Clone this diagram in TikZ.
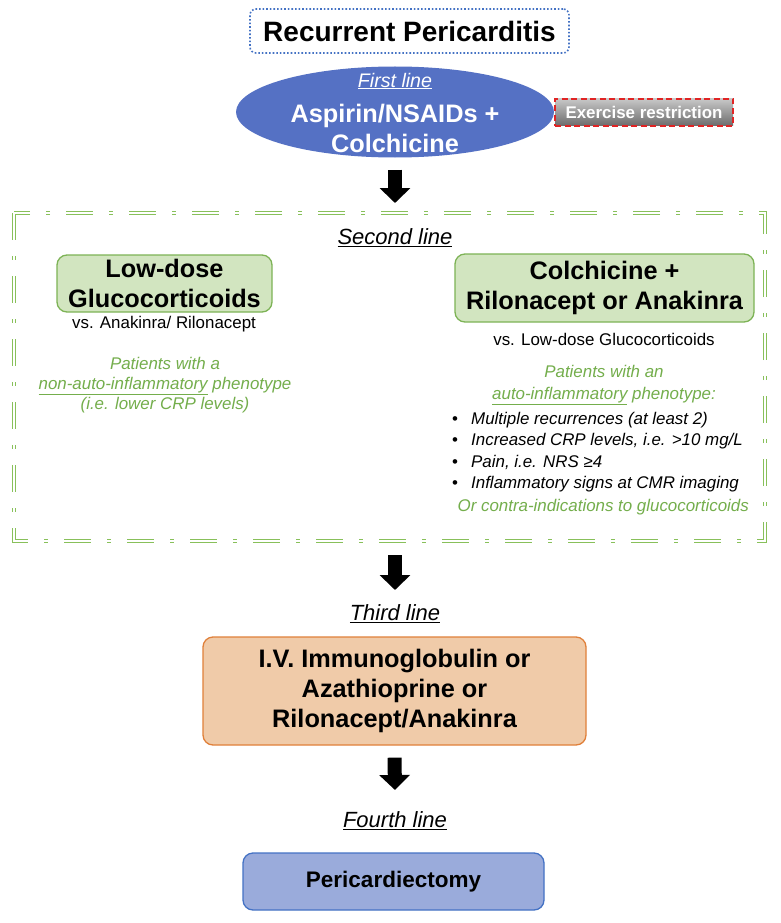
\documentclass[tikz,border=0pt]{standalone}
\usepackage{fontspec}
\setmainfont{Liberation Sans}
\usetikzlibrary{shapes.geometric,arrows.meta}

\definecolor{titleblue}{HTML}{4472C4}
\definecolor{ellblue}{HTML}{5571C4}
\definecolor{periblue}{HTML}{9AABDB}
\definecolor{boxgreen}{HTML}{D2E5C0}
\definecolor{edgegreen}{HTML}{7DB356}
\definecolor{framegreen}{HTML}{88C05A}
\definecolor{txtgreen}{HTML}{74AE4C}
\definecolor{boxorange}{HTML}{F0CBA9}
\definecolor{edgeorange}{HTML}{E0803A}
\definecolor{exred}{HTML}{E02424}

\tikzset{
  bigtext/.style={font=\fontsize{25.3}{30}\selectfont\bfseries, align=center},
  linelabel/.style={font=\fontsize{22}{26}\selectfont\itshape},
  vstext/.style={font=\fontsize{16.9}{21}\selectfont},
  greentext/.style={font=\fontsize{16.9}{20}\selectfont\itshape, text=txtgreen, align=center},
  roundbox/.style={rounded corners=10pt, line width=1.3pt, inner sep=0pt},
  greenbox/.style={roundbox, draw=edgegreen, fill=boxgreen, bigtext},
  fatarrow/.style={line width=14pt, -{Triangle[width=30pt,length=15pt]}},
  framestyle/.style={draw=framegreen, line width=1.7pt, double=white, double distance=1.5pt,
    dash pattern=on 27pt off 16pt on 4pt off 16pt}
}

\begin{document}
\begin{tikzpicture}[x=1pt,y=-1pt]
%%%%% START %%%%%
\fill[white] (0,0) rectangle (781,923);
\useasboundingbox (0,0) rectangle (781,923);

% first line
\node[draw=titleblue, dotted, line width=1.6pt, rounded corners=6pt, minimum width=319pt,
  minimum height=44pt, font=\fontsize{28}{32}\selectfont\bfseries] (title) at (409.5,31) {Recurrent Pericarditis};
\node[ellipse, fill=ellblue, minimum width=318pt, minimum height=91pt, inner sep=0pt] (first) at (395,112) {};
\node[font=\fontsize{19.6}{23}\selectfont\itshape, text=white] (firstlbl) at (395,81) {\underline{First line}};
\node[bigtext, text=white] (firsttxt) at (395,128) {Aspirin/NSAIDs +\\Colchicine};
\node[draw=exred, dash pattern=on 6pt off 3.5pt, line width=1.3pt, top color=black!22, bottom color=black!58,
  minimum width=178pt, minimum height=27pt, inner sep=0pt, text=white,
  font=\fontsize{16.9}{20}\selectfont\bfseries] (exer) at (644,112.5) {Exercise restriction};

% second line
\draw[framestyle] (14,213) rectangle (765,541);
\coordinate (frametop) at (395,213);
\coordinate (framebot) at (395,541);
\draw[fatarrow] ([yshift=-12pt]first.south) -- ([yshift=10pt]frametop);

\node[linelabel] (second) at (395,238) {\underline{Second line}};

\node[greenbox, minimum width=215pt, minimum height=57pt] (lowdose) at (164.5,283.5) {Low-dose\\Glucocorticoids};
\node[vstext] (vsleft) at (164,324) {vs. Anakinra/ Rilonacept};
\node[greentext] (phenoleft) at (165,385) {Patients with a\\\underline{non-auto-inflammatory} phenotype\\(i.e. lower CRP levels)};

\node[greenbox, minimum width=299pt, minimum height=68pt] (colch) at (604.5,288) {Colchicine +\\Rilonacept or Anakinra};
\node[vstext] (vsright) at (604,339) {vs. Low-dose Glucocorticoids};
\node[greentext, font=\fontsize{16.9}{22}\selectfont\itshape] (phenoright) at (604,385) {Patients with an\\\underline{auto-inflammatory} phenotype:};
\node[anchor=west, align=left, inner sep=0pt, font=\fontsize{16.9}{21.3}\selectfont] (crit) at (452,452)
  {\makebox[19pt][l]{•}\textit{Multiple recurrences (at least 2)}\\
   \makebox[19pt][l]{•}\textit{Increased CRP levels, i.e. >10 mg/L}\\
   \makebox[19pt][l]{•}\textit{Pain, i.e. NRS ≥4}\\
   \makebox[19pt][l]{•}\textit{Inflammatory signs at CMR imaging}};
\node[greentext, anchor=east, inner sep=0pt] (contra) at (749,507) {Or contra-indications to glucocorticoids};

% third line
\draw[fatarrow] ([yshift=-14pt]framebot) -- (395,590);
\node[linelabel] (third) at (395,614) {\underline{Third line}};
\node[roundbox, draw=edgeorange, fill=boxorange, bigtext, minimum width=383pt, minimum height=108pt]
  (ivig) at (394.5,691) {I.V. Immunoglobulin or\\Azathioprine or\\Rilonacept/Anakinra};

% fourth line
\draw[fatarrow] ([yshift=-12pt]ivig.south) -- (395,790);
\node[linelabel] (fourth) at (395,821) {\underline{Fourth line}};
\node[roundbox, draw=titleblue, fill=periblue, minimum width=301pt, minimum height=57pt,
  font=\fontsize{22.5}{26}\selectfont\bfseries] (peri) at (393.5,881.5) {Pericardiectomy};
%%%%% END %%%%%
\end{tikzpicture}
\end{document}
